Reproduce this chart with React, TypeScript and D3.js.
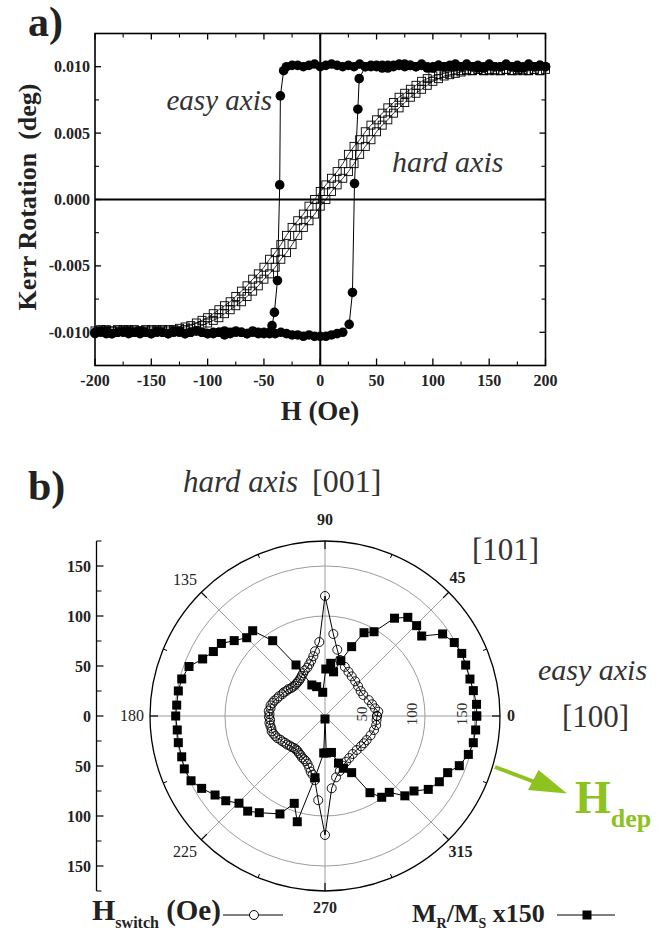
import React from 'react';
import * as d3 from 'd3';

// ---- panel a) : Kerr hysteresis loops ----
const fieldMajor = [-200, -150, -100, -50, 0, 50, 100, 150, 200];
const fieldMinor = [-175, -125, -75, -25, 25, 75, 125, 175];
const kerrMajor = [-0.01, -0.005, 0, 0.005, 0.01];
const kerrMinor = [-0.0075, -0.0025, 0.0025, 0.0075];
const kerrLabels = ['-0.010', '-0.005', '0.000', '0.005', '0.010'];

// easy axis, field sweeping down (+200 -> -200)
const easyDownH = [
  200, 195, 190, 185, 180, 175, 170, 165, 160, 155,
  150, 145, 140, 135, 130, 125, 120, 115, 110, 105,
  100, 95, 90, 85, 80, 75, 70, 65, 60, 55,
  50, 45, 40, 35, 30, 25, 20, 15, 10, 5,
  0, -5, -10, -15, -20, -25, -30,
  -32.5, -35.4, -36, -38, -40.7, -42.8,
  -45, -50, -55, -60, -65, -70, -75, -80, -85, -90,
  -95, -100, -105, -110, -115, -120, -125, -130, -135, -140,
  -145, -150, -155, -160, -165, -170, -175, -180, -185, -190,
  -195, -200,
];
const easyDownV = [
  0.0100, 0.0101, 0.0100, 0.0102, 0.0100, 0.0099, 0.0100, 0.0101, 0.0100, 0.0100,
  0.0102, 0.0100, 0.0099, 0.0100, 0.0101, 0.0100, 0.0102, 0.0100, 0.0100, 0.0101,
  0.0100, 0.0099, 0.0101, 0.0100, 0.0101, 0.0102, 0.0101, 0.0100, 0.0101, 0.0099,
  0.0101, 0.0100, 0.0100, 0.0102, 0.0100, 0.0101, 0.0100, 0.0101, 0.0102, 0.0101,
  0.0100, 0.0102, 0.0101, 0.0100, 0.0101, 0.0101, 0.0100,
  0.0097, 0.0078, 0.0011, -0.0061, -0.0085, -0.0095,
  -0.0100, -0.0101, -0.0100, -0.0099, -0.0101, -0.0100, -0.0099, -0.0100, -0.0102, -0.0100,
  -0.0100, -0.0101, -0.0100, -0.0099, -0.0100, -0.0101, -0.0100, -0.0099, -0.0101, -0.0100,
  -0.0100, -0.0101, -0.0100, -0.0099, -0.0100, -0.0101, -0.0100, -0.0100, -0.0101, -0.0099,
  -0.0100, -0.0101,
];

// easy axis, field sweeping up (-200 -> +200)
const easyUpH = [
  -200, -195, -190, -185, -180, -175, -170, -165, -160, -155,
  -150, -145, -140, -135, -130, -125, -120, -115, -110, -105,
  -100, -95, -90, -85, -80, -75, -70, -65, -60, -55,
  -50, -45, -40, -35, -30, -25, -20, -15, -10, -5,
  0, 5, 10, 15, 20,
  25.7, 28.6, 30.4, 33.4, 34.6,
  40, 45, 50, 55, 60, 65, 70, 75, 80, 85,
  90, 95, 100, 105, 110, 115, 120, 125, 130, 135,
  140, 145, 150, 155, 160, 165, 170, 175, 180, 185,
  190, 195, 200,
];
const easyUpV = [
  -0.0100, -0.0099, -0.0101, -0.0101, -0.0100, -0.0099, -0.0099, -0.0100, -0.0101, -0.0100,
  -0.0101, -0.0099, -0.0100, -0.0101, -0.0100, -0.0099, -0.0101, -0.0100, -0.0099, -0.0100,
  -0.0101, -0.0101, -0.0100, -0.0099, -0.0101, -0.0100, -0.0100, -0.0101, -0.0100, -0.0101,
  -0.0100, -0.0101, -0.0101, -0.0100, -0.0101, -0.0102, -0.0102, -0.0103, -0.0102, -0.0103,
  -0.0103, -0.0103, -0.0102, -0.0101, -0.0100,
  -0.0094, -0.0070, 0.0012, 0.0068, 0.0091,
  0.0100, 0.0101, 0.0100, 0.0101, 0.0099, 0.0101, 0.0102, 0.0100, 0.0101, 0.0100,
  0.0102, 0.0100, 0.0099, 0.0101, 0.0100, 0.0101, 0.0100, 0.0100, 0.0102, 0.0100,
  0.0101, 0.0099, 0.0101, 0.0100, 0.0100, 0.0102, 0.0100, 0.0101, 0.0099, 0.0101,
  0.0100, 0.0101, 0.0100,
];

// hard axis, field sweeping up
const hardUpH = [
  -200, -195, -190, -185, -180, -175, -170, -165, -160, -155,
  -150, -145, -140, -135, -130, -125, -120, -115, -110, -105,
  -100, -95, -90, -85, -80, -75, -70, -65, -60, -55,
  -50, -45, -40, -35, -30, -25, -20, -15, -10, -5,
  0, 5, 10, 15, 20, 25, 30, 35, 40, 45,
  50, 55, 60, 65, 70, 75, 80, 85, 90, 95,
  100, 105, 110, 115, 120, 125, 130, 135, 140, 145,
  150, 155, 160, 165, 170, 175, 180, 185, 190, 195,
];
const hardUpV = [
  -0.0099, -0.0098, -0.0099, -0.0099, -0.0098, -0.0099, -0.0098, -0.0099, -0.0099, -0.0098,
  -0.0099, -0.0098, -0.0099, -0.0098, -0.0099, -0.0099, -0.0098, -0.0097, -0.0096, -0.0095,
  -0.0093, -0.0091, -0.0089, -0.0086, -0.0083, -0.0080, -0.0077, -0.0073, -0.0069, -0.0065,
  -0.0060, -0.0056, -0.0051, -0.0045, -0.0040, -0.0034, -0.0027, -0.0021, -0.0016, -0.0011,
  -0.0005, 0.0000, 0.0006, 0.0011, 0.0016, 0.0021, 0.0027, 0.0034, 0.0040, 0.0045,
  0.0051, 0.0056, 0.0060, 0.0065, 0.0069, 0.0073, 0.0077, 0.0080, 0.0083, 0.0086,
  0.0089, 0.0091, 0.0093, 0.0094, 0.0095, 0.0096, 0.0097, 0.0097, 0.0098, 0.0097,
  0.0098, 0.0097, 0.0097, 0.0098, 0.0097, 0.0098, 0.0097, 0.0097, 0.0098, 0.0097,
];
// hard axis, field sweeping down
const hardDownH = [
  -195, -190, -185, -180, -175, -170, -165, -160, -155, -150,
  -145, -140, -135, -130, -125, -120, -115, -110, -105, -100,
  -95, -90, -85, -80, -75, -70, -65, -60, -55, -50,
  -45, -40, -35, -30, -25, -20, -15, -10, -5, 0,
  5, 10, 15, 20, 25, 30, 35, 40, 45, 50,
  55, 60, 65, 70, 75, 80, 85, 90, 95, 100,
  105, 110, 115, 120, 125, 130, 135, 140, 145, 150,
  155, 160, 165, 170, 175, 180, 185, 190, 195, 200,
];
const hardDownV = [
  -0.0099, -0.0098, -0.0099, -0.0099, -0.0098, -0.0099, -0.0098, -0.0099, -0.0099, -0.0098,
  -0.0099, -0.0098, -0.0099, -0.0098, -0.0097, -0.0096, -0.0095, -0.0093, -0.0091, -0.0089,
  -0.0086, -0.0083, -0.0080, -0.0077, -0.0073, -0.0069, -0.0065, -0.0060, -0.0056, -0.0051,
  -0.0045, -0.0040, -0.0034, -0.0027, -0.0021, -0.0016, -0.0011, -0.0005, 0.0000, 0.0006,
  0.0011, 0.0016, 0.0021, 0.0027, 0.0034, 0.0040, 0.0045, 0.0051, 0.0056, 0.0060,
  0.0065, 0.0069, 0.0073, 0.0077, 0.0080, 0.0083, 0.0086, 0.0089, 0.0091, 0.0093,
  0.0094, 0.0095, 0.0096, 0.0097, 0.0097, 0.0098, 0.0097, 0.0098, 0.0097, 0.0097,
  0.0098, 0.0097, 0.0098, 0.0097, 0.0097, 0.0098, 0.0097, 0.0098, 0.0097, 0.0098,
];

// ---- panel b) : polar plot ----
const ringValues = [100, 150];
const ringLabels = [50, 100, 150];
const spokeAngles = [0, 45, 90, 135, 180, 225, 270, 315];
const minorAngles = [22.5, 67.5, 112.5, 157.5, 202.5, 247.5, 292.5, 337.5];
const angleLabels = ['0', '45', '90', '135', '180', '225', '270', '315'];
const radialMajor = [-150, -100, -50, 0, 50, 100, 150];
const radialMinor = [-175, -125, -75, -25, 25, 75, 125, 175];

// H_switch (Oe) vs angle (deg)
const switchAngle = [
  0, 4.6, 8.7, 14, 20, 28.7, 35, 42, 49, 56, 62, 68, 75, 79.5, 84.2, 90,
  94.4, 98.8, 101, 104, 107, 110, 113.8, 117, 120, 123, 126, 129, 132, 135,
  138, 141, 144, 147, 150, 153, 156.8, 160, 163, 166, 169, 172, 175, 178,
  181, 184, 187, 190, 193, 196, 199, 202, 205, 208, 211, 214, 217, 220,
  223, 226, 229, 232, 235, 238, 241, 244, 247, 250, 253, 255.6, 258, 261,
  265.4, 270, 275.3, 280.2, 285, 290, 294.7, 300, 306, 313, 320, 325, 330,
  337, 344, 350, 355.6, 360,
];
const switchField = [
  52, 53.5, 50.6, 48.5, 46.5, 43.7, 43.5, 44.5, 46, 47.8, 50, 53, 58, 67.4, 82.4, 120,
  74.2, 65.5, 61, 57, 54, 51.5, 50, 48, 46.5, 45, 44, 43.5, 43.2, 43,
  43.5, 44, 45.5, 46, 47.5, 48, 50, 51, 53, 54, 55.5, 55, 56.5, 55.5,
  56, 55, 56, 55.5, 55, 55.5, 54.5, 53.5, 52.5, 50.5, 49.5, 48, 47.5, 46,
  45.5, 44.5, 44.2, 44.5, 45.5, 46, 47.5, 48, 49, 51, 54, 57.5, 60, 65,
  84.5, 119, 72.6, 62.3, 57, 53, 50.3, 48.5, 47, 46.5, 47, 47.5, 48.1,
  49.5, 51, 52, 51.7, 52,
];

// M_R/M_S x150 vs angle (deg)
const remAngle = [
  0, 4.4, 9.7, 14.3, 19.9, 24.6, 29.6, 34.9, 39.6, 44.6, 50, 54.6, 59.8, 64.9,
  69, 74, 79, 83.8, 89, 95.5, 105.8, 113, 119.6, 124.8, 130.3, 135, 140.3, 145,
  150, 155, 160, 165.5, 170.3, 175.8, 180, 185.4, 190.3, 195.9, 200.6, 205.8,
  210.4, 215.7, 220.5, 225.4, 230.9, 235.8, 245.3, 250.6, 255.3, 260.8, 268,
  270, 272, 280, 286, 289.3, 295.2, 300.4, 304.9, 310.1, 315, 319.9, 324.6,
  330.1, 335.2, 339.7, 345, 349.8, 354.7, 360,
];
const remValue = [
  151.7, 152, 150.5, 149.6, 149.6, 150.4, 148.7, 143.4, 125.5, 128.7, 128.8, 120, 97.5, 92,
  74.3, 57.5, 45, 53, 47, 23.8, 30.5, 33.7, 58.7, 91.7, 111.8, 110.7, 118, 126.5,
  128.9, 135, 144.7, 148, 148.8, 148.7, 149.3, 148.4, 149.1, 149, 150.3, 148.8,
  143, 135.4, 130.5, 122.5, 122.6, 116.9, 107.8, 92.6, 109.3, 62.5, 37,
  3, 37, 37, 49, 55.4, 62.6, 88.9, 99.1, 99.8, 112.9, 116.4, 126.7,
  131.9, 135.1, 143.2, 148.4, 150.7, 151.3, 151.7,
];

const font = "'Liberation Serif', 'DejaVu Serif', serif";
const ink = '#222';
const green = '#8dc21f';

export default function App() {
  // panel a scales
  const x = d3.scaleLinear().domain([-200, 200]).range([95, 545.5]);
  const y = d3.scaleLinear().domain([-0.0125, 0.0125]).range([365.5, 33.5]);
  const [x0, x1] = x.range();
  const [y0, y1] = y.range();

  const easyDown = easyDownH.map((h, i) => [h, easyDownV[i]] as [number, number]);
  const easyUp = easyUpH.map((h, i) => [h, easyUpV[i]] as [number, number]);
  const hardUp = hardUpH.map((h, i) => [h, hardUpV[i]] as [number, number]);
  const hardDown = hardDownH.map((h, i) => [h, hardDownV[i]] as [number, number]);
  const loopLine = d3.line<[number, number]>().x(d => x(d[0])).y(d => y(d[1]));

  // panel b scales
  const cx = 325;
  const cy = 716;
  const r = d3.scaleLinear().domain([0, 175]).range([0, 175]);
  const R = r(175);
  const theta = (deg: number) => ((90 - deg) * Math.PI) / 180;
  const radial = d3.lineRadial<[number, number]>().angle(d => theta(d[0])).radius(d => r(d[1]));
  const switchPts = switchAngle.map((a, i) => [a, switchField[i]] as [number, number]);
  const remPts = remAngle.map((a, i) => [a, remValue[i]] as [number, number]);
  const yRad = d3.scaleLinear().domain([-175, 175]).range([cy + 175, cy - 175]);
  const axX = 96.5;

  const angleLabelPos: Record<string, [number, number, boolean]> = {
    '0': [511, 721, true],
    '45': [457.5, 583, true],
    '90': [325, 525, true],
    '135': [185, 585, false],
    '180': [132, 721, false],
    '225': [185, 857, false],
    '270': [325, 913, true],
    '315': [460.5, 857, true],
  };

  return (
    <svg
      width={668}
      height={933}
      style={{ position: 'absolute', left: 0, top: 0, background: '#fff' }}
      fontFamily={font}
    >
      {/* ===== panel a ===== */}
      <text x={28} y={36} fontSize={42} fontWeight="bold" fill={ink}>a)</text>

      {/* zero lines */}
      <line x1={x(0)} x2={x(0)} y1={y0} y2={y1} stroke="#000" strokeWidth={2} />
      <line x1={x0} x2={x1} y1={y(0)} y2={y(0)} stroke="#000" strokeWidth={2} />

      {/* ticks on all four sides, pointing in */}
      {fieldMajor.map(t => (
        <g key={'fx' + t}>
          <line x1={x(t)} x2={x(t)} y1={y0} y2={y0 - 7} stroke="#000" strokeWidth={1.3} />
          <line x1={x(t)} x2={x(t)} y1={y1} y2={y1 + 6} stroke="#000" strokeWidth={1.3} />
          <text x={x(t)} y={386} textAnchor="middle" fontSize={16} fontWeight="bold" fill={ink}>{t}</text>
        </g>
      ))}
      {fieldMinor.map(t => (
        <g key={'fm' + t}>
          <line x1={x(t)} x2={x(t)} y1={y0} y2={y0 - 4} stroke="#000" strokeWidth={1.1} />
          <line x1={x(t)} x2={x(t)} y1={y1} y2={y1 + 4} stroke="#000" strokeWidth={1.1} />
        </g>
      ))}
      {kerrMajor.map((t, i) => (
        <g key={'ky' + t}>
          <line x1={x0} x2={x0 + 6} y1={y(t)} y2={y(t)} stroke="#000" strokeWidth={1.3} />
          <line x1={x1} x2={x1 - 6} y1={y(t)} y2={y(t)} stroke="#000" strokeWidth={1.3} />
          <text x={90} y={y(t) + 5.5} textAnchor="end" fontSize={16} fontWeight="bold" fill={ink}>{kerrLabels[i]}</text>
        </g>
      ))}
      {kerrMinor.map(t => (
        <g key={'km' + t}>
          <line x1={x0} x2={x0 + 4} y1={y(t)} y2={y(t)} stroke="#000" strokeWidth={1.1} />
          <line x1={x1} x2={x1 - 4} y1={y(t)} y2={y(t)} stroke="#000" strokeWidth={1.1} />
        </g>
      ))}

      {/* hard axis loop, open squares */}
      {[hardUp, hardDown].map((s, k) => (
        <g key={'hard' + k}>
          <path d={loopLine(s) || ''} fill="none" stroke="#000" strokeWidth={0.8} />
          {s.map((d, i) => (
            <rect key={i} x={x(d[0]) - 4} y={y(d[1]) - 4} width={8} height={8} fill="none" stroke="#000" strokeWidth={0.9} />
          ))}
        </g>
      ))}

      {/* easy axis loop, filled circles */}
      {[easyDown, easyUp].map((s, k) => (
        <g key={'easy' + k}>
          <path d={loopLine(s) || ''} fill="none" stroke="#000" strokeWidth={1} />
          {s.map((d, i) => (
            <circle key={i} cx={x(d[0])} cy={y(d[1])} r={4.8} fill="#000" />
          ))}
        </g>
      ))}

      {/* frame */}
      <rect x={x0} y={y1} width={x1 - x0} height={y0 - y1} fill="none" stroke="#000" strokeWidth={1.6} />

      <text x={272} y={110} textAnchor="end" fontSize={29} fontStyle="italic" fill="#333">easy axis</text>
      <text x={392} y={172} fontSize={30} fontStyle="italic" fill="#333">hard axis</text>

      <text x={320} y={420} textAnchor="middle" fontSize={27} fontWeight="bold" fill={ink}>H (Oe)</text>
      <text
        transform={`translate(36,${197}) rotate(-90)`}
        textAnchor="middle"
        fontSize={26}
        fontWeight="bold"
        fill={ink}
        style={{ whiteSpace: 'pre' }}
      >
        Kerr Rotation  (deg)
      </text>

      {/* ===== panel b ===== */}
      <text x={28} y={500} fontSize={42} fontWeight="bold" fill={ink}>b)</text>
      <text x={183} y={492} fontSize={31} fontStyle="italic" fill="#333">hard axis</text>
      <text x={312} y={492} fontSize={32} fill="#333">[001]</text>
      <text x={472} y={560} fontSize={31} fill="#333">[101]</text>
      <text x={538} y={680} fontSize={30} fontStyle="italic" fill="#333">easy axis</text>
      <text x={562} y={727} fontSize={31} fill="#333">[100]</text>

      <g transform={`translate(${cx},${cy})`}>
        {ringValues.map(v => (
          <circle key={'ring' + v} r={r(v)} fill="none" stroke="#9c9c9c" strokeWidth={1} />
        ))}
        {spokeAngles.map(a => {
          const [px, py] = d3.pointRadial(theta(a), R);
          return <line key={'sp' + a} x1={0} y1={0} x2={px} y2={py} stroke="#9c9c9c" strokeWidth={1} />;
        })}
        {spokeAngles.map(a => {
          const [ax, ay] = d3.pointRadial(theta(a), R - 8);
          const [bx, by] = d3.pointRadial(theta(a), R);
          return <line key={'mt' + a} x1={ax} y1={ay} x2={bx} y2={by} stroke="#000" strokeWidth={1.2} />;
        })}
        {minorAngles.map(a => {
          const [ax, ay] = d3.pointRadial(theta(a), R - 4);
          const [bx, by] = d3.pointRadial(theta(a), R);
          return <line key={'nt' + a} x1={ax} y1={ay} x2={bx} y2={by} stroke="#000" strokeWidth={1} />;
        })}
        <circle r={R} fill="none" stroke="#000" strokeWidth={1.3} />

        {ringLabels.map(v => (
          <text
            key={'rl' + v}
            transform={`translate(${r(v) - 8},-2) rotate(-90)`}
            textAnchor="middle"
            fontSize={15}
            fill="#333"
          >
            {v}
          </text>
        ))}

        {/* M_R/M_S x150 */}
        <path d={radial(remPts) || ''} fill="none" stroke="#000" strokeWidth={1} />
        {remPts.map((d, i) => {
          const [px, py] = d3.pointRadial(theta(d[0]), r(d[1]));
          return <rect key={'rm' + i} x={px - 4.5} y={py - 4.5} width={9} height={9} fill="#000" />;
        })}

        {/* H_switch */}
        <path d={radial(switchPts) || ''} fill="none" stroke="#000" strokeWidth={1} />
        {switchPts.map((d, i) => {
          const [px, py] = d3.pointRadial(theta(d[0]), r(d[1]));
          return <circle key={'sw' + i} cx={px} cy={py} r={4.5} fill="none" stroke="#000" strokeWidth={0.9} />;
        })}
      </g>

      {angleLabels.map(l => {
        const [lx, ly, bold] = angleLabelPos[l];
        return (
          <text key={'al' + l} x={lx} y={ly} textAnchor="middle" fontSize={16} fontWeight={bold ? 'bold' : 'normal'} fill={ink}>
            {l}
          </text>
        );
      })}

      {/* left radial axis */}
      <line x1={axX} x2={axX} y1={yRad(175)} y2={yRad(-175)} stroke="#000" strokeWidth={1.3} />
      {radialMajor.map(t => (
        <g key={'rM' + t}>
          <line x1={axX} x2={axX + 7} y1={yRad(t)} y2={yRad(t)} stroke="#000" strokeWidth={1.2} />
          <text x={91} y={yRad(t) + 5.5} textAnchor="end" fontSize={16} fontWeight="bold" fill={ink}>{Math.abs(t)}</text>
        </g>
      ))}
      {radialMinor.map(t => (
        <line key={'rm' + t} x1={axX} x2={axX + 5} y1={yRad(t)} y2={yRad(t)} stroke="#000" strokeWidth={1} />
      ))}

      {/* H_dep arrow */}
      <line x1={495} y1={767} x2={540} y2={784} stroke={green} strokeWidth={4} />
      <polygon points="567,793.5 528,790 538.5,770" fill={green} />
      <text x={575} y={813} fontSize={46} fontWeight="bold" fill={green}>
        H<tspan fontSize={26} dy={14}>dep</tspan>
      </text>

      {/* legend */}
      <text x={92} y={920} fontSize={30} fontWeight="bold" fill={ink}>
        H<tspan fontSize={16} dy={8}>switch</tspan>
        <tspan fontSize={29} dy={-8}> (Oe)</tspan>
      </text>
      <line x1={223} x2={283} y1={915} y2={915} stroke="#000" strokeWidth={1} />
      <circle cx={254} cy={915} r={4.5} fill="#fff" stroke="#000" strokeWidth={1} />

      <text x={412} y={922} fontSize={26} fontWeight="bold" fill={ink}>
        M<tspan fontSize={14} dy={6}>R</tspan>
        <tspan fontSize={26} dy={-6}>/M</tspan>
        <tspan fontSize={14} dy={6}>S</tspan>
        <tspan fontSize={26} dy={-6}> x150</tspan>
      </text>
      <line x1={557} x2={615} y1={915} y2={915} stroke="#000" strokeWidth={1} />
      <rect x={582.5} y={910.5} width={9} height={9} fill="#000" />
    </svg>
  );
}
